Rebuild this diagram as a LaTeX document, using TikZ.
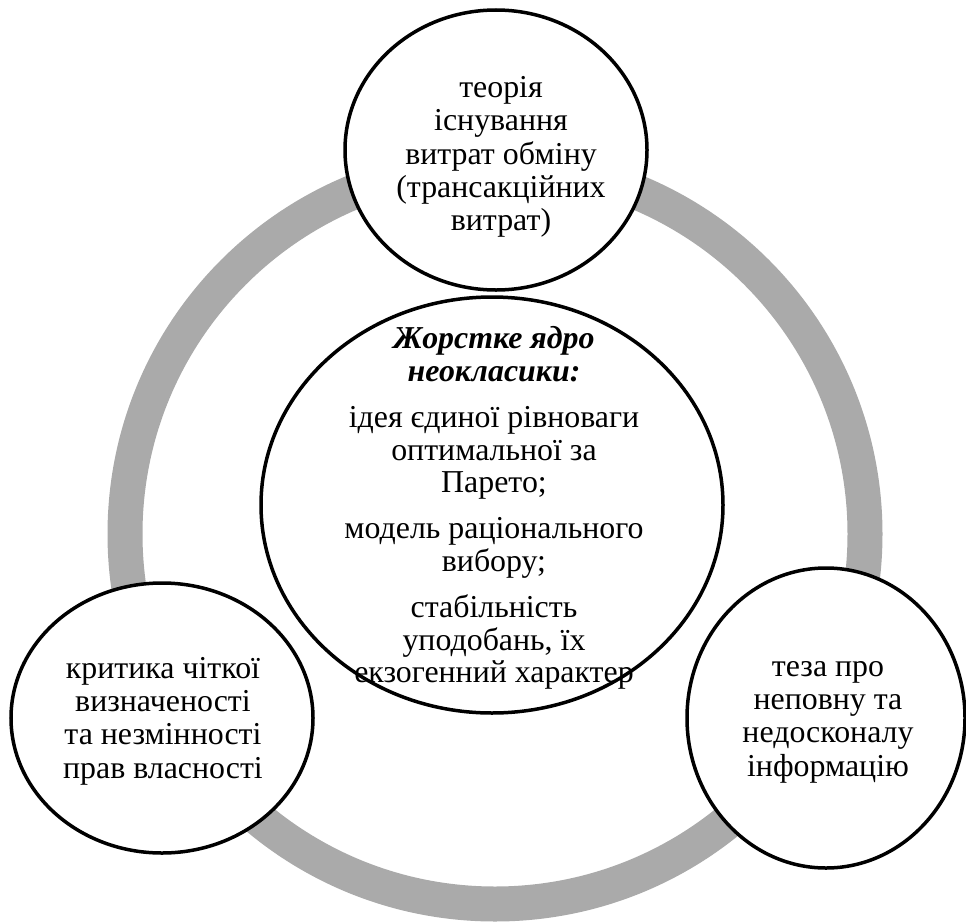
\documentclass[tikz,border=0pt]{standalone}
\usepackage{fontspec}
\setmainfont{Liberation Serif}
\usetikzlibrary{shapes.geometric}
\definecolor{ringgray}{RGB}{170,170,170}
\tikzset{
  bubble/.style={ellipse, draw=black, line width=3.5bp, fill=white, inner sep=0pt, outer sep=0pt},
  corefill/.style={ellipse, fill=white, inner sep=0pt, outer sep=0pt},
  outline/.style={draw=black, line width=3.5bp},
  txt/.style={align=center, inner sep=0pt, font=\fontsize{32}{33.5}\selectfont},
  ring/.style={draw=ringgray, line width=35bp}
}
\begin{document}
\begin{tikzpicture}[x=1bp,y=-1bp]
\useasboundingbox (0,0) rectangle (966,923);
\clip (0,0) rectangle (966,923);
\fill[white] (0,0) rectangle (966,923);
% gray cycle ring
\coordinate (ringc) at (495,534);
\draw[ring] (ringc) circle [radius=370];
% central circle
\node[corefill, minimum width=462bp, minimum height=416bp] (core) at (492,505) {};
\node[txt, font=\fontsize{32}{32.5}\selectfont] (coretext) at (494,508)
  {\textbf{\textit{Жорстке ядро}}\\ \textbf{\textit{неокласики:}}\\[14bp]
   ідея єдиної рівноваги\\ оптимальної за\\ Парето;\\[14bp]
   модель раціонального\\ вибору;\\[14bp]
   стабільність\\ уподобань, їх\\ екзогенний характер};
\draw[outline] (core.center) ellipse [x radius=231, y radius=208];
% satellites
\node[bubble, minimum width=302bp, minimum height=280bp] (top) at (496,150) {};
\node[txt] (toptext) at (501,157)
  {теорія\\ існування\\ витрат обміну\\ (трансакційних\\ витрат)};
\node[bubble, minimum width=302bp, minimum height=270bp] (left) at (162,718) {};
\node[txt] (lefttext) at (163,721)
  {критика чіткої\\ визначеності\\ та незмінності\\ прав власності};
\node[bubble, minimum width=278bp, minimum height=300bp] (right) at (826,718) {};
\node[txt] (righttext) at (828,722)
  {теза про\\ неповну та\\ недосконалу\\ інформацію};
\end{tikzpicture}
\end{document}
